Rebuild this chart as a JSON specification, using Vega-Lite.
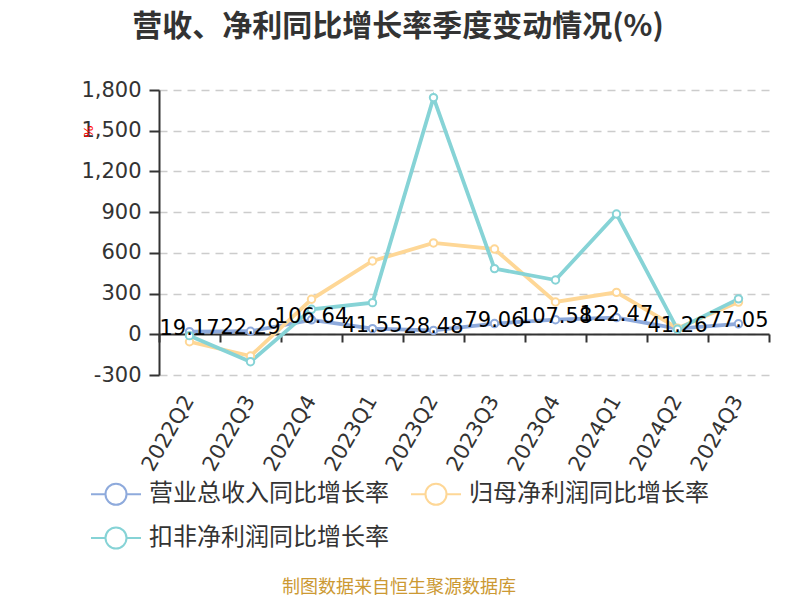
{
  "$schema": "https://vega.github.io/schema/vega-lite/v6.json",
  "width": 610,
  "height": 285,
  "autosize": {"type": "none"},
  "padding": {"left": 159, "top": 90, "right": 31, "bottom": 225},
  "background": "white",
  "title": {
    "text": "营收、净利同比增长率季度变动情况(%)",
    "font": "Noto Sans CJK SC",
    "fontSize": 30,
    "fontWeight": "bold",
    "color": "#333333",
    "anchor": "middle",
    "frame": "group",
    "dx": -66,
    "offset": 37
  },
  "config": {"view": {"stroke": null}, "font": "DejaVu Sans"},
  "data": {
    "values": [
      {"q": "2022Q2", "s": "营业总收入同比增长率", "v": 19.17},
      {"q": "2022Q3", "s": "营业总收入同比增长率", "v": 22.29},
      {"q": "2022Q4", "s": "营业总收入同比增长率", "v": 106.64},
      {"q": "2023Q1", "s": "营业总收入同比增长率", "v": 41.55},
      {"q": "2023Q2", "s": "营业总收入同比增长率", "v": 28.48},
      {"q": "2023Q3", "s": "营业总收入同比增长率", "v": 79.06},
      {"q": "2023Q4", "s": "营业总收入同比增长率", "v": 107.58},
      {"q": "2024Q1", "s": "营业总收入同比增长率", "v": 122.47},
      {"q": "2024Q2", "s": "营业总收入同比增长率", "v": 41.26},
      {"q": "2024Q3", "s": "营业总收入同比增长率", "v": 77.05},
      {"q": "2022Q2", "s": "归母净利润同比增长率", "v": -55},
      {"q": "2022Q3", "s": "归母净利润同比增长率", "v": -160},
      {"q": "2022Q4", "s": "归母净利润同比增长率", "v": 258},
      {"q": "2023Q1", "s": "归母净利润同比增长率", "v": 540},
      {"q": "2023Q2", "s": "归母净利润同比增长率", "v": 673},
      {"q": "2023Q3", "s": "归母净利润同比增长率", "v": 628},
      {"q": "2023Q4", "s": "归母净利润同比增长率", "v": 238},
      {"q": "2024Q1", "s": "归母净利润同比增长率", "v": 309},
      {"q": "2024Q2", "s": "归母净利润同比增长率", "v": 45},
      {"q": "2024Q3", "s": "归母净利润同比增长率", "v": 237},
      {"q": "2022Q2", "s": "扣非净利润同比增长率", "v": -10},
      {"q": "2022Q3", "s": "扣非净利润同比增长率", "v": -202},
      {"q": "2022Q4", "s": "扣非净利润同比增长率", "v": 184},
      {"q": "2023Q1", "s": "扣非净利润同比增长率", "v": 233},
      {"q": "2023Q2", "s": "扣非净利润同比增长率", "v": 1744},
      {"q": "2023Q3", "s": "扣非净利润同比增长率", "v": 484},
      {"q": "2023Q4", "s": "扣非净利润同比增长率", "v": 400},
      {"q": "2024Q1", "s": "扣非净利润同比增长率", "v": 886},
      {"q": "2024Q2", "s": "扣非净利润同比增长率", "v": 37},
      {"q": "2024Q3", "s": "扣非净利润同比增长率", "v": 261}
    ]
  },
  "encoding": {
    "y": {
      "field": "v",
      "type": "quantitative",
      "scale": {"domain": [-300, 1800], "nice": false, "zero": false},
      "axis": {
        "values": [-300, 0, 300, 600, 900, 1200, 1500, 1800],
        "labelExpr": "replace(format(datum.value, ',.0f'), '−', '-')",
        "grid": true,
        "gridDash": [8, 6],
        "gridColor": "#cccccc",
        "gridWidth": 1.5,
        "domain": true,
        "domainColor": "#333333",
        "domainWidth": 2,
        "ticks": true,
        "tickColor": "#333333",
        "tickWidth": 2,
        "tickSize": 10,
        "labelFont": "DejaVu Sans",
        "labelFontSize": 21,
        "labelColor": "#333333",
        "labelPadding": 8,
        "title": "%",
        "titleFont": "DejaVu Sans",
        "titleColor": "#ff0000",
        "titleFontSize": 13,
        "titleFontWeight": "normal",
        "titleAngle": -90,
        "titleX": -71,
        "titleY": 41,
        "titleAlign": "center",
        "titleBaseline": "middle"
      }
    },
    "color": {
      "field": "s",
      "type": "nominal",
      "scale": {
        "domain": ["营业总收入同比增长率", "归母净利润同比增长率", "扣非净利润同比增长率"],
        "range": ["#8eaadc", "#fed796", "#86d3d6"]
      },
      "legend": {
        "orient": "none",
        "legendX": -69,
        "legendY": 378,
        "direction": "horizontal",
        "columns": 2,
        "columnPadding": 18,
        "rowPadding": 3,
        "padding": 0,
        "symbolType": "M-1,0H-0.42M0.42,0H1M0.42,0A0.42,0.42,0,1,1,-0.42,0A0.42,0.42,0,1,1,0.42,0",
        "symbolSize": 2500,
        "symbolStrokeWidth": 2,
        "symbolFillColor": "white",
        "labelFont": "Noto Sans CJK SC",
        "labelFontSize": 24,
        "labelColor": "#333333",
        "labelOffset": 7,
        "labelLimit": 400,
        "title": "制图数据来自恒生聚源数据库",
        "titleOrient": "bottom",
        "titleAnchor": "middle",
        "titleFont": "Noto Sans CJK SC",
        "titleFontSize": 18,
        "titleFontWeight": "normal",
        "titleColor": "#cc9933",
        "titlePadding": 26,
        "titleLimit": 1000
      }
    }
  },
  "layer": [
    {
      "mark": {"type": "line", "strokeWidth": 3.8},
      "encoding": {
        "x": {
          "field": "q",
          "type": "ordinal",
          "sort": null,
          "scale": {"type": "band", "paddingInner": 0, "paddingOuter": 0},
          "axis": {
            "orient": "bottom",
            "offset": -41,
            "bandPosition": 0,
            "domain": true,
            "domainColor": "#333333",
            "domainWidth": 2,
            "ticks": true,
            "tickColor": "#333333",
            "tickWidth": 2,
            "tickSize": 8,
            "labels": false,
            "grid": false,
            "title": null
          }
        }
      }
    },
    {
      "mark": {"type": "point", "filled": false, "fill": "white", "size": 55, "strokeWidth": 2, "opacity": 1},
      "encoding": {
        "x": {
          "field": "q",
          "type": "ordinal",
          "sort": null,
          "axis": {
            "orient": "bottom",
            "domain": false,
            "ticks": false,
            "tickSize": 0,
            "labels": true,
            "labelAngle": -60,
            "labelAlign": "right",
            "labelBaseline": "middle",
            "labelFont": "DejaVu Sans",
            "labelFontSize": 21,
            "labelColor": "#333333",
            "labelPadding": 22,
            "labelOverlap": false,
            "grid": false,
            "title": null
          }
        }
      }
    },
    {
      "transform": [{"filter": "datum.s === '营业总收入同比增长率'"}],
      "mark": {"type": "text", "font": "DejaVu Sans", "fontSize": 21, "color": "#000000", "baseline": "middle", "dy": -3},
      "encoding": {
        "text": {"field": "v", "type": "quantitative", "format": ".2f"},
        "color": {"value": "#000000"},
        "x": {
          "field": "q",
          "type": "ordinal",
          "sort": null,
          "axis": {
            "orient": "bottom",
            "offset": -41,
            "bandPosition": 1,
            "values": ["2024Q3"],
            "domain": false,
            "ticks": true,
            "tickColor": "#333333",
            "tickWidth": 2,
            "tickSize": 8,
            "labels": false,
            "grid": false,
            "title": null
          }
        }
      }
    }
  ],
  "resolve": {"axis": {"x": "independent"}}
}
